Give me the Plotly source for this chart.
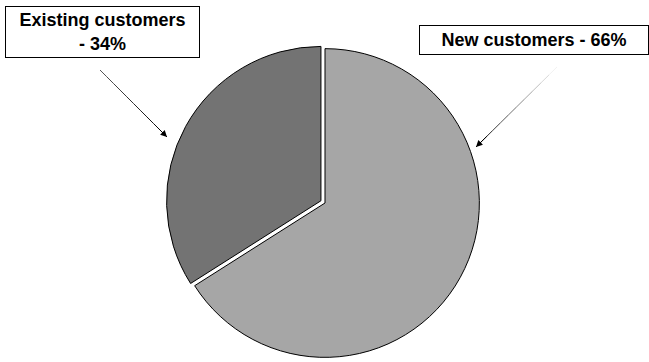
import plotly.graph_objects as go

# Data
labels = ["New customers", "Existing customers"]
values = [66, 34]
colors = ["#A6A6A6", "#737373"]
pulls = [0, 0.03]
label_texts = ["New customers - 66%", "Existing customers<br>- 34%"]

W, H = 649, 362

fig = go.Figure()
fig.add_trace(go.Pie(
    labels=labels, values=values, sort=False, direction="clockwise", rotation=0,
    marker=dict(colors=colors, line=dict(color="#000000", width=1)),
    pull=pulls, textinfo="none", hoverinfo="label+percent", showlegend=False,
    domain=dict(x=[166 / W, 484 / W], y=[0, 1 - 44 / H]),
))

font = dict(family="Liberation Sans, Arial, sans-serif", size=18, color="#000000")

def px(x, y):
    return x / W, 1 - y / H

annotations = []
# Existing label box
bx, by = px(102.5, 32)
annotations.append(dict(x=bx, y=by, xref="paper", yref="paper", text="<b>" + label_texts[1] + "</b>",
                        showarrow=False, xanchor="center", yanchor="middle", font=font,
                        bgcolor="#FFFFFF", bordercolor="#000000", borderwidth=1, borderpad=1,
                        width=191, height=48, align="center"))
# New label box
bx, by = px(534, 40)
annotations.append(dict(x=bx, y=by, xref="paper", yref="paper", text="<b>" + label_texts[0] + "</b>",
                        showarrow=False, xanchor="center", yanchor="middle", font=font,
                        bgcolor="#FFFFFF", bordercolor="#000000", borderwidth=1, borderpad=1,
                        width=226, height=26, align="center"))

shapes = []

def grad_arrow(tail, head, start_gray, n=10):
    (x0, y0), (x1, y1) = tail, head
    for i in range(n):
        t0, t1 = i / n, (i + 1) / n
        g = int(start_gray * (1 - (i + 0.5) / n))
        c = f"rgb({g},{g},{g})"
        xa, ya = px(x0 + (x1 - x0) * t0, y0 + (y1 - y0) * t0)
        xb, yb = px(x0 + (x1 - x0) * t1, y0 + (y1 - y0) * t1)
        shapes.append(dict(type="line", xref="paper", yref="paper", x0=xa, y0=ya, x1=xb, y1=yb,
                           line=dict(color=c, width=1)))
    hx, hy = px(x1, y1)
    annotations.append(dict(x=hx, y=hy, xref="paper", yref="paper", text="", showarrow=True,
                            ax=(x0 + (x1 - x0) * 0.85) - x1, ay=(y0 + (y1 - y0) * 0.85) - y1,
                            arrowhead=2, arrowsize=1.3, arrowwidth=1, arrowcolor="#000000",
                            standoff=0))

grad_arrow((100, 70), (167, 137), 90)
grad_arrow((557, 67), (476, 147), 255)

fig.update_layout(
    width=W, height=H, margin=dict(l=0, r=0, t=0, b=0),
    paper_bgcolor="#FFFFFF", plot_bgcolor="#FFFFFF",
    annotations=annotations, shapes=shapes,
)

fig.write_html("out.html")
